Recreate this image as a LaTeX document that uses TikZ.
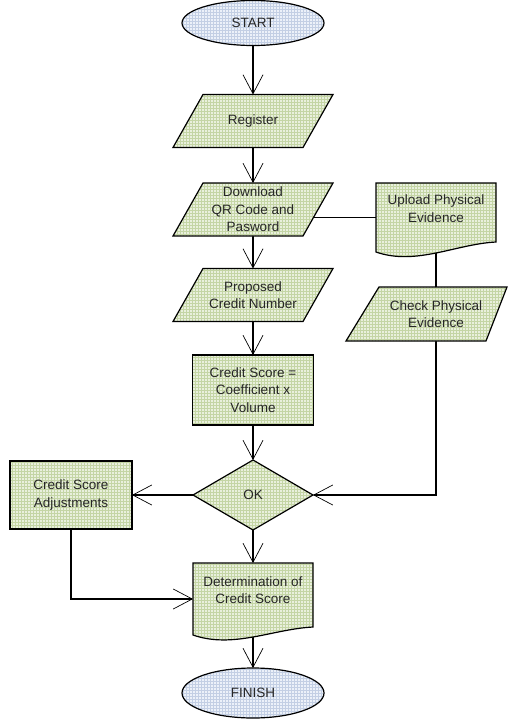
\documentclass[tikz,border=0pt]{standalone}
\usepackage{fontspec}
\setmainfont{Liberation Sans}
\usetikzlibrary{arrows.meta,shapes.geometric,patterns.meta}
\pgfdeclarelayer{bg}
\pgfdeclarelayer{shp}
\pgfsetlayers{bg,shp,main}
\definecolor{gbase}{HTML}{E9F0DD}
\definecolor{gline}{HTML}{C4D5A5}
\definecolor{bbase}{HTML}{ECF1F9}
\definecolor{bline}{HTML}{C3CFE4}
\definecolor{txtc}{HTML}{262626}
\tikzdeclarepattern{
  name=finegrid,
  type=uncolored,
  bounding box={(-0.6pt,-0.6pt) and (3.6pt,3.6pt)},
  tile size={(3pt,3pt)},
  code={
    \draw[line width=0.9pt] (-0.5pt,0pt) -- (3.5pt,0pt);
    \draw[line width=0.9pt] (0pt,-0.5pt) -- (0pt,3.5pt);
  }
}
\tikzset{
  greenfill/.style={preaction={fill=gbase}, pattern=finegrid, pattern color=gline},
  bluefill/.style={preaction={fill=bbase}, pattern=finegrid, pattern color=bline},
  outline/.style={draw=black, line width=1.2pt},
  label text/.style={font=\fontsize{13.5}{17.5}\selectfont, text=txtc, align=center, inner sep=0pt, outer sep=0pt},
  terminal/.style={ellipse, bluefill, outline, label text, minimum width=142pt, minimum height=45pt},
  iobox/.style={rectangle, label text, minimum width=130pt, minimum height=53pt},
  procbox/.style={rectangle, greenfill, outline, label text, minimum width=121pt, minimum height=70pt},
  docbox/.style={rectangle, minimum width=120pt, inner sep=0pt, outer sep=0pt},
  decision/.style={diamond, greenfill, outline, label text, minimum width=120pt, minimum height=70pt},
  shapepath/.style={greenfill, outline, line join=miter},
  conn/.style={draw=black, line width=1.2pt},
  flow/.style={conn, -{Straight Barb[length=19pt,width=20pt,line width=0.7pt]}},
}
\begin{document}
\begin{tikzpicture}[x=1pt,y=-1pt]
\useasboundingbox (0,0) rectangle (508,720);

% nodes
\node[terminal] (start) at (253,23) {START};
\node[iobox] (reg) at (253,121) {Register};
\node[iobox] (dl) at (253,209.5) {Download\\QR Code and\\Pasword};
\node[iobox] (prop) at (253,295) {Proposed\\Credit Number};
\node[docbox, minimum height=69pt] (upload) at (436,217.5) {};
\node[label text] (uploadtext) at (436,208.5) {Upload Physical\\Evidence};
\node[iobox] (check) at (436,314) {Check Physical\\Evidence};
\node[procbox] (cs) at (253,390) {Credit Score =\\Coefficient x\\Volume};
\node[decision] (ok) at (253,495) {OK};
\node[procbox, minimum width=122pt, minimum height=68pt] (adj) at (71,495) {Credit Score\\Adjustments};
\node[docbox, minimum height=72pt] (det) at (253,599) {};
\node[label text] (dettext) at (253,590) {Determination of\\Credit Score};
\node[terminal, minimum height=50pt] (finish) at (253,693) {FINISH};

% shapes drawn behind texts
\begin{pgfonlayer}{shp}
\foreach \n in {reg,dl,prop}{
  \path[shapepath] ([xshift=15pt]\n.north west) -- ([xshift=15pt]\n.north east)
     -- ([xshift=-15pt]\n.south east) -- ([xshift=-15pt]\n.south west) -- cycle;
}
\path[shapepath, shift={(check.center)}] (-57,-27) -- (71,-27) -- (50,27) -- (-90,27) -- cycle;
\path[shapepath, shift={(upload.center)}] (-60,-34.5) -- (60,-34.5) -- (60,24.5)
   .. controls (20,26.5) and (-20,48.5) .. (-60,34.5) -- cycle;
\path[shapepath, shift={(det.center)}] (-60,-36) -- (60,-36) -- (60,28)
   .. controls (20,30) and (-20,50) .. (-60,36) -- cycle;
\end{pgfonlayer}

% connectors
\begin{pgfonlayer}{bg}
\draw[flow] (start.south) -- (reg.north);
\draw[flow] (reg.south) -- (dl.north);
\draw[flow] (dl.south) -- (prop.north);
\draw[flow] (prop.south) -- (cs.north);
\draw[flow] (cs.south) -- (ok.north);
\draw[flow] (ok.west) -- (adj.east);
\draw[conn] (upload.west) -- (upload.west -| dl.center);
\draw[conn] (upload.center) -- (check.center);
\draw[flow] (check.center) |- (ok.east);
\draw[flow] (adj.south) |- (det.west);
\draw[flow] (ok.south) -- (det.north);
\draw[flow] (det.south) -- (finish.north);
\end{pgfonlayer}
\end{tikzpicture}
\end{document}
